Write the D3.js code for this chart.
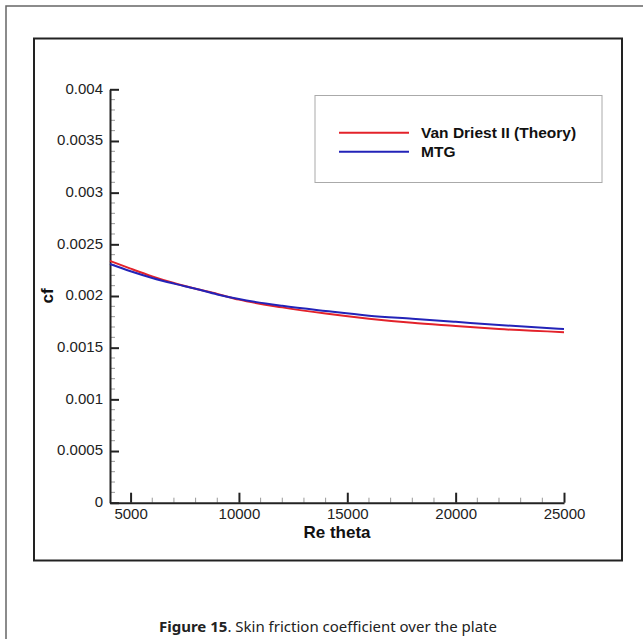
<!DOCTYPE html>
<html><head><meta charset="utf-8">
<script src="https://cdn.jsdelivr.net/npm/d3@7"></script>
<style>html,body{margin:0;padding:0;background:#fff;}svg{display:block;}</style>
</head><body>
<script>
const reTheta = [4050, 5000, 6000, 7000, 8000, 9000, 10000, 12000, 14000, 16000, 18000, 20000, 22000, 25000];
const vanDriest = [0.00234, 0.002265, 0.00219, 0.002125, 0.00207, 0.00202, 0.001965, 0.00189, 0.00183, 0.00178, 0.00174, 0.00171, 0.00168, 0.00165];
const mtg = [0.00231, 0.00224, 0.002175, 0.00212, 0.00207, 0.002015, 0.00197, 0.001905, 0.001855, 0.00181, 0.00178, 0.00175, 0.00172, 0.00168];
const seriesNames = ["Van Driest II (Theory)", "MTG"];
const seriesColors = ["#e3222a", "#2323b8"];
const xTicks = [5000, 10000, 15000, 20000, 25000];
const yTicks = [0, 0.0005, 0.001, 0.0015, 0.002, 0.0025, 0.003, 0.0035, 0.004];
const caption = ["Figure 15", ". Skin friction coefficient over the plate"];

const W = 643, H = 639;
const svg = d3.select("body").append("svg").attr("width", W).attr("height", H);

// outer figure frame
svg.append("path").attr("d", `M6,${H} V6 H${W}`).attr("fill","none").attr("stroke","#666").attr("stroke-width",1.5);
// inner chart frame
svg.append("rect").attr("x",34).attr("y",38.5).attr("width",588).attr("height",522)
  .attr("fill","none").attr("stroke","#222").attr("stroke-width",2);

const x = d3.scaleLinear().domain([4050, 25000]).range([110, 564]);
const y = d3.scaleLinear().domain([0, 0.004]).range([502.7, 89.3]);

const font = "'Liberation Sans', Arial, sans-serif";

// minor ticks
const xMinor = d3.range(5000, 25001, 1000).filter(v => v % 5000 !== 0);
const yMinor = d3.range(1, 40).map(i => i * 0.0001).filter(v => Math.round(v * 10000) % 5 !== 0);
svg.append("g").selectAll("line").data(xMinor).join("line")
  .attr("x1", d => x(d)).attr("x2", d => x(d)).attr("y1", y(0)).attr("y2", y(0) - 5)
  .attr("stroke", "#999").attr("stroke-width", 1);
svg.append("g").selectAll("line").data(yMinor).join("line")
  .attr("x1", x(4050)).attr("x2", x(4050) + 5).attr("y1", d => y(d)).attr("y2", d => y(d))
  .attr("stroke", "#999").attr("stroke-width", 1);

// x axis
const xAxis = d3.axisBottom(x).tickValues(xTicks).tickSizeInner(-10).tickSizeOuter(0).tickPadding(5.5)
  .tickFormat(d3.format("d"));
const gx = svg.append("g").attr("transform", `translate(0,${y(0)})`).call(xAxis);
gx.attr("font-size", null).attr("font-family", null);
gx.select(".domain").attr("stroke", "#222").attr("stroke-width", 2);
gx.selectAll(".tick line").attr("stroke", "#222").attr("stroke-width", 2);
gx.selectAll(".tick text").style("font-family", font).style("font-size", "15px").attr("fill", "#222");

// y axis
const yAxis = d3.axisLeft(y).tickValues(yTicks).tickSizeInner(-9).tickSizeOuter(0).tickPadding(7)
  .tickFormat(d => d === 0 ? "0" : String(+d.toFixed(4)));
const gy = svg.append("g").attr("transform", `translate(${x(4050)},0)`).call(yAxis);
gy.attr("font-size", null).attr("font-family", null);
gy.select(".domain").attr("stroke", "#222").attr("stroke-width", 2);
gy.selectAll(".tick line").attr("stroke", "#222").attr("stroke-width", 2);
gy.selectAll(".tick text").style("font-family", font).style("font-size", "15px").attr("fill", "#222")
  .attr("dy", "0.25em");

// axis titles
svg.append("text").attr("x", (x.range()[0] + x.range()[1]) / 2).attr("y", 538)
  .attr("text-anchor", "middle").style("font-family", font).attr("font-weight", "bold")
  .style("font-size", "17px").attr("fill", "#111").text("Re theta");
svg.append("text").attr("transform", `translate(53,${(y(0) + y(0.004)) / 2}) rotate(-90)`)
  .attr("text-anchor", "middle").style("font-family", font).attr("font-weight", "bold")
  .style("font-size", "17px").attr("fill", "#111").text("cf");

// curves
const line = d3.line().x(d => x(d[0])).y(d => y(d[1])).curve(d3.curveMonotoneX);
[vanDriest, mtg].forEach((vals, i) => {
  svg.append("path").datum(reTheta.map((r, j) => [r, vals[j]]))
    .attr("d", line).attr("fill", "none").attr("stroke", seriesColors[i]).attr("stroke-width", 2);
});

// legend
svg.append("rect").attr("x", 315).attr("y", 95.5).attr("width", 287).attr("height", 87)
  .attr("fill", "#fff").attr("stroke", "#aaa").attr("stroke-width", 1);
seriesNames.forEach((n, i) => {
  const ly = 132.7 + i * 19;
  svg.append("line").attr("x1", 339).attr("x2", 409).attr("y1", ly).attr("y2", ly)
    .attr("stroke", seriesColors[i]).attr("stroke-width", 2);
  svg.append("text").attr("x", 421).attr("y", ly + 5.5).style("font-family", font)
    .attr("font-weight", "bold").style("font-size", "15.5px").attr("fill", "#111").text(n);
});

// caption
const cap = svg.append("text").attr("x", 328).attr("y", 632).attr("text-anchor", "middle")
  .style("font-family", "'Noto Sans', 'Open Sans', sans-serif").style("font-size", "15px").attr("fill", "#222");
cap.append("tspan").attr("font-weight", "bold").text(caption[0]);
cap.append("tspan").text(caption[1]);
</script>
</body></html>
